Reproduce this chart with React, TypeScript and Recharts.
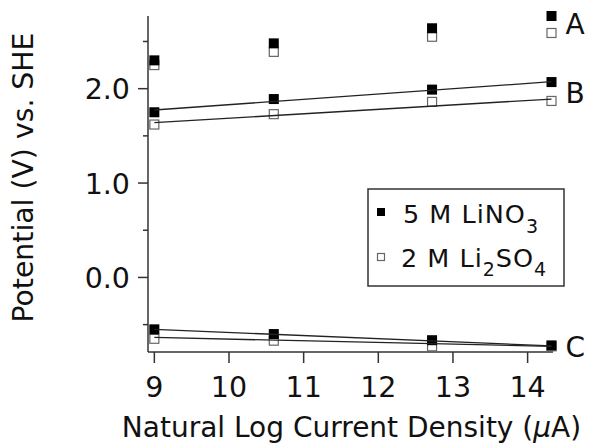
import { ScatterChart, Scatter, XAxis, YAxis, Legend, ReferenceDot } from 'recharts';

const FONT = '"DejaVu Sans", sans-serif';

// x positions (natural log current density)
const xValues = [9.0, 10.6, 12.72, 14.32];

// measured potentials (V vs SHE)
const aLiNO3 = [2.3, 2.48, 2.64, 2.77];
const aLi2SO4 = [2.25, 2.39, 2.55, 2.59];
const bLiNO3 = [1.75, 1.89, 1.99, 2.07];
const bLi2SO4 = [1.62, 1.73, 1.86, 1.87];
const cLiNO3 = [-0.55, -0.6, -0.665, -0.72];
const cLi2SO4 = [-0.65, -0.67, -0.73, -0.73];

// linear fit end points
const fitX = [9.0, 14.32];
const fitBLiNO3 = [1.774, 2.074];
const fitBLi2SO4 = [1.64, 1.89];
const fitCLiNO3 = [-0.55, -0.725];
const fitCLi2SO4 = [-0.636, -0.73];

const xTicks = [9, 10, 11, 12, 13, 14];
const yTicks = [-0.5, 0, 0.5, 1, 1.5, 2, 2.5];
const curveLabels = ['A', 'B', 'C'];
const curveLabelY = [2.686, 1.951, -0.739];

const toPts = (xs: number[], ys: number[]) => xs.map((x, i) => ({ x, y: ys[i] }));

const filledSq = (p: any) => (
    <rect x={p.cx - 5} y={p.cy - 5} width={10} height={10} fill="#000" />
);
const openSq = (p: any) => (
    <rect x={p.cx - 4.5} y={p.cy - 4.5} width={9} height={9} fill="#fff" stroke="#666" strokeWidth={1.2} />
);
const noShape = () => <g />;

const XTick = (props: any) => {
    const { x, y, payload } = props;
    return (
        <g>
            <line x1={x} x2={x} y1={y} y2={y + 11} stroke="#333" strokeWidth={1.5} />
            <text x={x} y={y + 45} textAnchor="middle" fontSize={28.5} fontFamily={FONT} fill="#111">
                {payload.value}
            </text>
        </g>
    );
};

const YTick = (props: any) => {
    const { x, y, payload } = props;
    const major = Number.isInteger(payload.value);
    return (
        <g>
            <line x1={x - (major ? 10 : 5)} x2={x} y1={y} y2={y} stroke="#333" strokeWidth={1.5} />
            {major && (
                <text x={x - 18} y={y + 10.5} textAnchor="end" fontSize={28.5} fontFamily={FONT} fill="#111">
                    {payload.value.toFixed(1)}
                </text>
            )}
        </g>
    );
};

const XTitle = (props: any) => {
    const { x, y, width } = props.viewBox;
    return (
        <text x={x + width / 2 + 1} y={y + 85} textAnchor="middle" fontSize={28} fontFamily={FONT} fill="#111">
            Natural Log Current Density (<tspan fontStyle="italic">μ</tspan>A)
        </text>
    );
};

const YTitle = (props: any) => {
    const { y, height } = props.viewBox;
    const cy = y + height / 2 - 6.5;
    return (
        <text x={33} y={cy} transform={`rotate(-90, 33, ${cy})`} textAnchor="middle" fontSize={28.3} fontFamily={FONT} fill="#111">
            Potential (V) vs. SHE
        </text>
    );
};

const LegendBox = () => (
    <svg width={198} height={99} style={{ display: 'block' }}>
        <rect x={1} y={1} width={196} height={97} fill="#fff" stroke="#333" strokeWidth={1.5} />
        <rect x={10} y={20} width={8} height={8} fill="#000" />
        <text x={36} y={35} fontSize={25.5} letterSpacing={1} fontFamily={FONT} fill="#111">
            5 M LiNO<tspan dy={10} fontSize={19}>3</tspan>
        </text>
        <rect x={10.5} y={65.5} width={7} height={7} fill="#fff" stroke="#666" strokeWidth={1.2} />
        <text x={34} y={79} fontSize={25.5} letterSpacing={1} fontFamily={FONT} fill="#111">
            2 M Li<tspan dy={9} fontSize={19}>2</tspan>
            <tspan dy={-9}>SO</tspan>
            <tspan dy={9} fontSize={19}>4</tspan>
        </text>
    </svg>
);

export default function App() {
    return (
        <div style={{ position: 'absolute', left: 0, top: 0, width: 591, height: 443, background: '#fff' }}>
            <ScatterChart width={591} height={443} margin={{ top: 16, right: 38, left: 0, bottom: 0 }}>
                <XAxis
                    type="number"
                    dataKey="x"
                    domain={[8.915, 14.34]}
                    ticks={xTicks}
                    interval={0}
                    height={91}
                    tickSize={0}
                    tickMargin={0}
                    tickLine={false}
                    tick={<XTick />}
                    axisLine={{ stroke: '#333', strokeWidth: 1.5 }}
                    label={{ content: XTitle }}
                />
                <YAxis
                    type="number"
                    dataKey="y"
                    domain={[-0.79, 2.77]}
                    ticks={yTicks}
                    interval={0}
                    width={148}
                    tickSize={0}
                    tickMargin={0}
                    tickLine={false}
                    tick={<YTick />}
                    axisLine={{ stroke: '#333', strokeWidth: 1.5 }}
                    label={{ content: YTitle }}
                />
                <Legend
                    layout="horizontal"
                    verticalAlign="middle"
                    content={() => <LegendBox />}
                    wrapperStyle={{ left: 367, top: 188, width: 198, height: 99 }}
                />
                <Scatter data={toPts(xValues, aLi2SO4)} shape={openSq} isAnimationActive={false} />
                <Scatter data={toPts(xValues, bLi2SO4)} shape={openSq} isAnimationActive={false} />
                <Scatter data={toPts(xValues, cLi2SO4)} shape={openSq} isAnimationActive={false} />
                <Scatter data={toPts(xValues, aLiNO3)} shape={filledSq} isAnimationActive={false} />
                <Scatter data={toPts(xValues, bLiNO3)} shape={filledSq} isAnimationActive={false} />
                <Scatter data={toPts(xValues, cLiNO3)} shape={filledSq} isAnimationActive={false} />
                {[fitBLiNO3, fitBLi2SO4, fitCLiNO3, fitCLi2SO4].map((f, i) => (
                    <Scatter
                        key={i}
                        data={toPts(fitX, f)}
                        shape={noShape}
                        line={{ stroke: '#222', strokeWidth: 1.3 }}
                        isAnimationActive={false}
                    />
                ))}
                {curveLabels.map((l, i) => (
                    <ReferenceDot
                        key={l}
                        x={xValues[3]}
                        y={curveLabelY[i]}
                        r={0}
                        ifOverflow="visible"
                        stroke="none"
                        label={{ value: l, position: 'right', offset: 14, fontSize: 28, fontFamily: FONT, fill: '#111' }}
                    />
                ))}
            </ScatterChart>
        </div>
    );
}
